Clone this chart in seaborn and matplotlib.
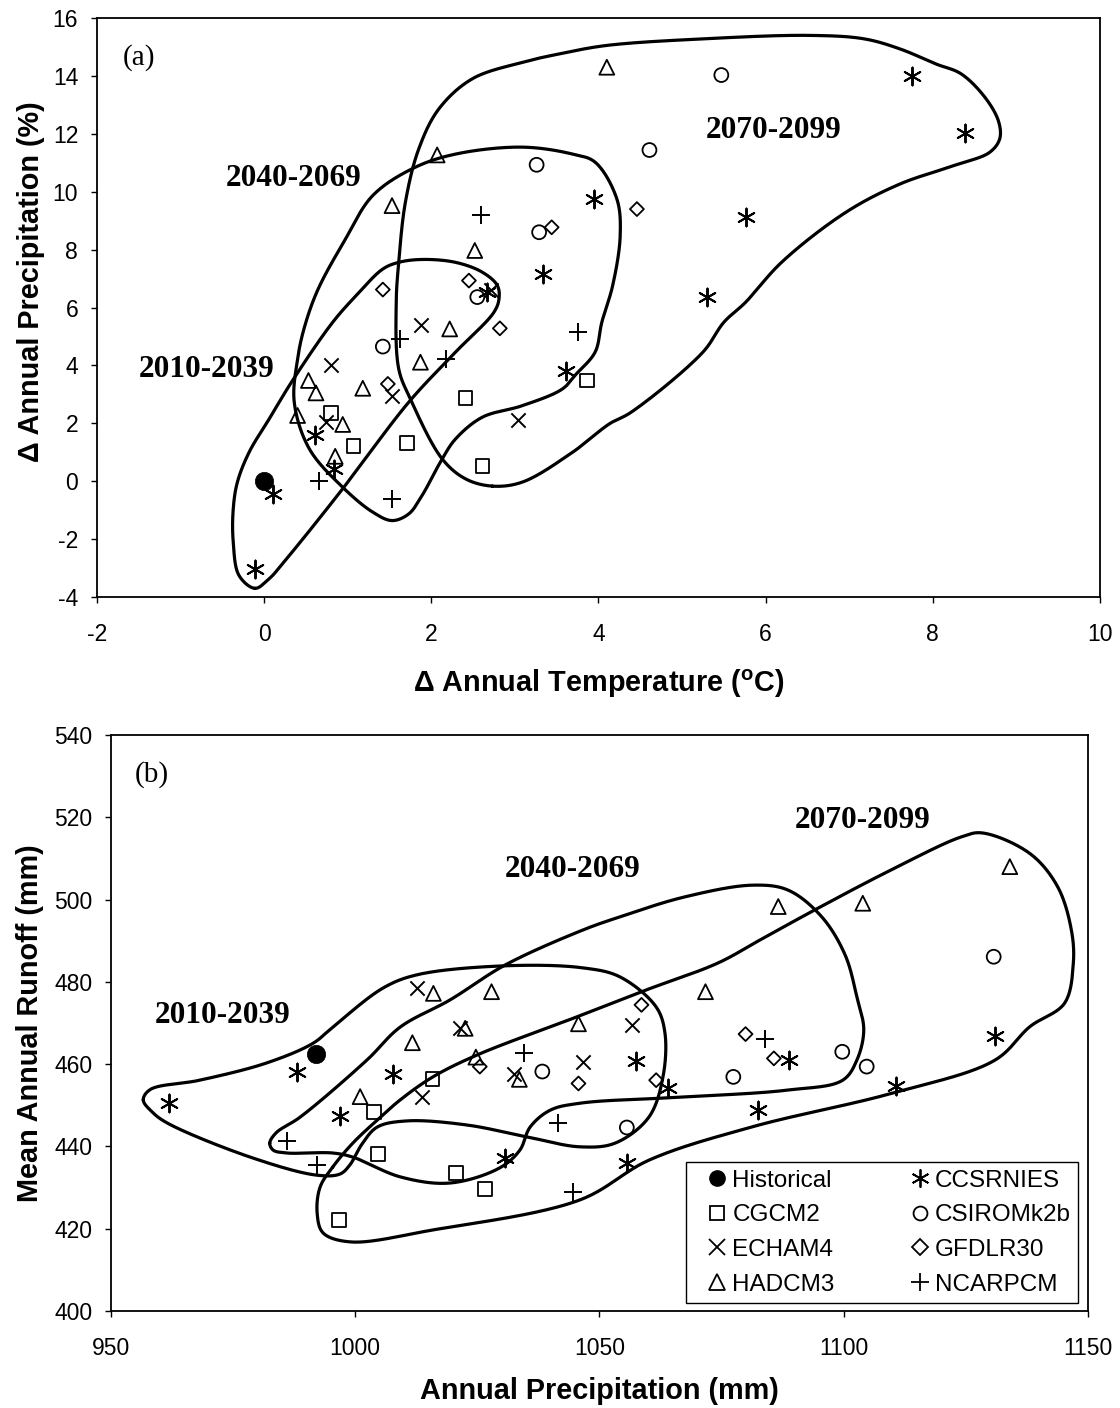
import numpy as np
import matplotlib
matplotlib.use("Agg")
import matplotlib.pyplot as plt
from matplotlib.lines import Line2D
import seaborn as sns

# ---------------- data ----------------
models = ["CGCM2", "ECHAM4", "HADCM3", "CCSRNIES", "CSIROMk2b", "GFDLR30", "NCARPCM"]
periods = ["2010-2039", "2040-2069", "2070-2099"]

# (a) change in annual temperature (degC) / change in annual precipitation (%)
hist_dT, hist_dP = [0.0], [0.0]
dT = {
    "CGCM2":     [0.80, 1.07, 1.71, 2.41, 2.61, 3.86],
    "ECHAM4":    [0.74, 0.80, 1.53, 1.88, 2.72, 3.04],
    "HADCM3":    [0.40, 0.53, 0.62, 0.85, 0.94, 1.18, 1.53, 1.87, 2.07, 2.22, 2.52, 4.10],
    "CCSRNIES":  [0.11, -0.11, 0.61, 0.84, 2.67, 3.34, 3.61, 3.95, 5.30, 5.77, 7.75, 8.38],
    "CSIROMk2b": [1.42, 2.55, 3.26, 3.29, 4.61, 5.47],
    "GFDLR30":   [1.42, 1.48, 2.45, 2.82, 3.44, 4.46],
    "NCARPCM":   [0.66, 1.53, 1.62, 2.17, 2.59, 3.75],
}
dP = {
    "CGCM2":     [2.36, 1.21, 1.32, 2.87, 0.52, 3.48],
    "ECHAM4":    [2.06, 4.00, 2.94, 5.40, 6.62, 2.13],
    "HADCM3":    [2.27, 3.48, 3.05, 0.86, 1.96, 3.21, 9.52, 4.11, 11.27, 5.26, 7.97, 14.30],
    "CCSRNIES":  [-0.44, -3.03, 1.58, 0.43, 6.53, 7.16, 3.82, 9.75, 6.36, 9.12, 14.00, 12.02],
    "CSIROMk2b": [4.65, 6.36, 10.93, 8.60, 11.44, 14.03],
    "GFDLR30":   [6.62, 3.36, 6.93, 5.28, 8.77, 9.40],
    "NCARPCM":   [0.00, -0.61, 4.92, 4.22, 9.20, 5.17],
}

# (b) annual precipitation (mm) / mean annual runoff (mm)
hist_P, hist_R = [992.0], [462.5]
precip = {
    "CGCM2":     [996.7, 1003.8, 1004.7, 1015.8, 1020.6, 1026.6],
    "ECHAM4":    [1012.6, 1013.6, 1021.5, 1032.5, 1046.6, 1056.7],
    "HADCM3":    [1001.0, 1011.7, 1016.0, 1022.5, 1024.7, 1027.9, 1033.6, 1045.7, 1071.7, 1086.6, 1103.9, 1134.0],
    "CCSRNIES":  [961.9, 988.0, 996.9, 1007.8, 1030.7, 1055.6, 1057.4, 1064.1, 1082.5, 1088.7, 1110.6, 1130.9],
    "CSIROMk2b": [1038.3, 1055.6, 1077.4, 1099.7, 1104.7, 1130.7],
    "GFDLR30":   [1025.5, 1045.7, 1058.6, 1061.6, 1079.9, 1085.7],
    "NCARPCM":   [986.0, 992.1, 1034.5, 1041.6, 1044.6, 1083.8],
}
runoff = {
    "CGCM2":     [422.1, 448.3, 438.1, 456.4, 433.5, 429.6],
    "ECHAM4":    [478.4, 452.1, 468.9, 457.5, 460.6, 469.4],
    "HADCM3":    [452.1, 465.2, 477.2, 468.7, 461.7, 477.6, 456.3, 469.8, 477.6, 498.3, 499.1, 508.0],
    "CCSRNIES":  [450.6, 458.2, 447.4, 457.6, 437.1, 436.0, 460.8, 454.1, 448.8, 461.0, 454.7, 466.8],
    "CSIROMk2b": [458.2, 444.6, 456.9, 463.0, 459.4, 486.1],
    "GFDLR30":   [459.4, 455.3, 474.4, 456.1, 467.3, 461.4],
    "NCARPCM":   [441.4, 435.6, 462.8, 445.6, 429.0, 466.0],
}

# envelopes drawn around each period's projections, panel (a)
env_a_2010_x = [-0.11, -0.30, -0.37, -0.37, -0.32, -0.18, 0.06, 0.34, 0.82, 1.10, 1.42, 1.61, 1.89,
                2.29, 2.61, 2.79, 2.81, 2.75, 2.29, 1.73, 0.94, 0.30, 0.06]
env_a_2010_y = [-3.70, -3.26, -2.10, -0.96, -0.03, 1.00, 2.15, 3.48, 5.49, 6.41, 7.33, 7.56, 7.66,
                7.56, 7.22, 6.76, 6.30, 5.84, 4.46, 2.73, -0.26, -2.57, -3.37]
env_a_2040_x = [1.53, 1.30, 0.94, 0.54, 0.36, 0.40, 0.48, 0.64, 0.96, 1.30, 1.79, 2.29, 3.09, 3.69,
                3.96, 4.22, 4.26, 4.17, 4.04, 3.96, 3.73, 3.57, 3.09, 2.61, 2.29, 2.13, 1.89, 1.73]
env_a_2040_y = [-1.36, -1.07, -0.21, 1.12, 2.73, 4.22, 5.30, 6.60, 8.30, 9.87, 10.82, 11.30, 11.54, 11.30,
                11.02, 9.75, 8.49, 6.76, 5.49, 4.46, 3.69, 3.19, 2.61, 2.21, 1.46, 0.77, -0.49, -1.13]
env_a_2070_x = [2.73, 2.41, 2.13, 1.75, 1.61, 1.58, 1.61, 1.69, 1.85, 2.09, 2.49, 3.09, 3.53, 4.09,
                5.25, 6.53, 7.18, 7.61, 8.04, 8.34, 8.64, 8.79, 8.80, 8.68, 8.25, 7.61, 6.96, 6.19,
                5.76, 5.50, 5.25, 4.39, 4.13, 3.69, 3.09]
env_a_2070_y = [-0.17, 0.08, 0.77, 2.84, 3.88, 6.18, 7.56, 9.64, 11.48, 12.86, 13.90, 14.47, 14.76, 15.05,
                15.28, 15.40, 15.28, 14.93, 14.41, 14.07, 13.20, 12.40, 11.82, 11.36, 10.90, 10.27, 9.29, 7.56,
                6.18, 5.49, 4.46, 2.38, 1.98, 1.00, -0.03]

# envelopes, panel (b)
env_b_2010_x = [956.6, 958.4, 961.5, 978.5, 992.2, 996.9, 998.9, 1001.4, 1004.5, 1010.6, 1022.9, 1035.2,
                1046.0, 1053.2, 1060.1, 1063.0, 1063.4, 1061.6, 1054.2, 1046.6, 1030.7, 1012.6, 1005.7,
                995.4, 991.4, 981.9, 968.2, 958.0]
env_b_2010_y = [451.3, 448.4, 445.7, 437.4, 433.0, 433.3, 435.5, 440.6, 444.7, 446.2, 445.2, 442.3,
                439.9, 440.8, 447.1, 456.9, 467.6, 473.9, 481.2, 483.4, 483.9, 481.7, 478.5,
                469.0, 465.1, 460.3, 456.1, 453.8]
env_b_2040_x = [982.5, 983.8, 988.7, 1002.4, 1009.2, 1019.4, 1030.7, 1046.6, 1054.2, 1067.3, 1081.4, 1088.6,
                1095.5, 1100.3, 1102.7, 1104.1, 1102.7, 1099.8, 1088.6, 1067.3, 1046.0, 1039.9, 1035.8,
                1033.7, 1029.6, 1019.4, 1009.2, 999.5, 995.4, 986.0, 983.2]
env_b_2040_y = [440.8, 443.3, 447.1, 461.0, 469.0, 475.6, 484.1, 492.6, 495.8, 500.6, 503.5, 502.3,
                495.8, 486.5, 476.3, 468.3, 461.0, 456.1, 453.7, 452.0, 450.5, 448.8, 444.7,
                439.1, 434.8, 431.1, 432.6, 437.4, 438.4, 438.4, 439.1]
env_b_2070_x = [995.4, 999.5, 1004.5, 1009.2, 1015.9, 1024.9, 1045.4, 1059.5, 1074.3, 1082.9, 1094.1, 1109.7,
                1124.0, 1128.3, 1138.1, 1143.8, 1146.6, 1147.0, 1145.2, 1138.1, 1131.0, 1109.8, 1081.4,
                1060.2, 1046.0, 1015.9, 998.9, 993.4, 992.2, 992.8]
env_b_2070_y = [435.0, 440.8, 446.4, 451.3, 456.9, 462.2, 471.5, 478.0, 484.6, 490.2, 497.5, 507.2,
                515.2, 516.2, 511.2, 503.1, 492.6, 484.5, 474.8, 469.1, 461.0, 452.9, 444.8,
                436.7, 427.0, 419.7, 416.8, 419.0, 423.8, 430.1]

# period label anchors
lab_a_x, lab_a_y = [-0.69, 0.35, 6.10], [3.87, 10.45, 12.12]
lab_b_x, lab_b_y = [972.9, 1044.6, 1103.9], [471.7, 507.4, 519.1]

# ---------------- style ----------------
sns.set_style("ticks")
plt.rcParams["font.family"] = ["Liberation Sans", "DejaVu Sans"]
plt.rcParams["mathtext.fontset"] = "custom"
plt.rcParams["mathtext.rm"] = "Liberation Sans"
plt.rcParams["mathtext.bf"] = "Liberation Sans:bold"
plt.rcParams["axes.unicode_minus"] = False
plt.rcParams["text.color"] = "black"
plt.rcParams["axes.labelcolor"] = "black"

MARK = {
    "CGCM2":     dict(marker="s", s=95, hollow=True),
    "ECHAM4":    dict(marker="x", s=105, hollow=False),
    "HADCM3":    dict(marker="^", s=115, hollow=True),
    "CCSRNIES":  dict(marker=(6, 2, 0), s=165, hollow=False),
    "CSIROMk2b": dict(marker="o", s=100, hollow=True),
    "GFDLR30":   dict(marker="D", s=50, hollow=True),
    "NCARPCM":   dict(marker="+", s=165, hollow=False),
}
LEG_ORDER = ["Historical", "CGCM2", "ECHAM4", "HADCM3", "CCSRNIES", "CSIROMk2b", "GFDLR30", "NCARPCM"]


def closed_spline(xs, ys, sx, sy, n=40):
    """Centripetal Catmull-Rom curve through a closed ring of points."""
    P = np.column_stack([np.asarray(xs, float) * sx, np.asarray(ys, float) * sy])
    N = len(P)
    segs = []
    for i in range(N):
        p0, p1, p2, p3 = P[(i - 1) % N], P[i], P[(i + 1) % N], P[(i + 2) % N]
        t0 = 0.0
        t1 = t0 + np.linalg.norm(p1 - p0) ** 0.5
        t2 = t1 + np.linalg.norm(p2 - p1) ** 0.5
        t3 = t2 + np.linalg.norm(p3 - p2) ** 0.5
        t = np.linspace(t1, t2, n, endpoint=False)[:, None]
        a1 = (t1 - t) / (t1 - t0) * p0 + (t - t0) / (t1 - t0) * p1
        a2 = (t2 - t) / (t2 - t1) * p1 + (t - t1) / (t2 - t1) * p2
        a3 = (t3 - t) / (t3 - t2) * p2 + (t - t2) / (t3 - t2) * p3
        b1 = (t2 - t) / (t2 - t0) * a1 + (t - t0) / (t2 - t0) * a2
        b2 = (t3 - t) / (t3 - t1) * a2 + (t - t1) / (t3 - t1) * a3
        segs.append((t2 - t) / (t2 - t1) * b1 + (t - t1) / (t2 - t1) * b2)
    C = np.vstack(segs + [segs[0][:1]])
    return C[:, 0] / sx, C[:, 1] / sy


def draw_points(ax, xs, ys, hx, hy):
    for m in models:
        st = MARK[m]
        if st["hollow"]:
            sns.scatterplot(x=xs[m], y=ys[m], marker=st["marker"], s=st["s"], color="black",
                            edgecolor="black", linewidth=1.3, ax=ax, legend=False, zorder=3)
            ax.collections[-1].set_facecolor("none")
        else:
            sns.scatterplot(x=xs[m], y=ys[m], marker=st["marker"], s=st["s"], color="black",
                            linewidth=1.4, ax=ax, legend=False, zorder=3)
    sns.scatterplot(x=hx, y=hy, marker="o", s=175, color="black", edgecolor="black",
                    linewidth=0.5, ax=ax, legend=False, zorder=4)


def draw_envelopes(ax, rings):
    fig = ax.figure
    bb = ax.get_position()
    xr = ax.get_xlim()
    yr = ax.get_ylim()
    sx = bb.width * fig.get_figwidth() * fig.dpi / (xr[1] - xr[0])
    sy = bb.height * fig.get_figheight() * fig.dpi / (yr[1] - yr[0])
    for rx, ry in rings:
        cx, cy = closed_spline(rx, ry, sx, sy)
        sns.lineplot(x=cx, y=cy, sort=False, estimator=None, color="black",
                     linewidth=2.3, ax=ax, legend=False, zorder=2)


def style_axes(ax):
    for sp in ax.spines.values():
        sp.set_visible(True)
        sp.set_color("black")
        sp.set_linewidth(1.3)
    ax.tick_params(axis="both", direction="out", length=4.5, width=1.0,
                   color="black", labelsize=16.5, labelcolor="black")
    ax.tick_params(axis="x", pad=14)
    ax.tick_params(axis="y", pad=9)
    ax.grid(False)


fig = plt.figure(figsize=(11.2, 14.08), dpi=100)
fig.patch.set_facecolor("white")

serif_bold = dict(family=["Liberation Serif", "DejaVu Serif"], fontweight="bold",
                  fontsize=22.5, color="black")
axis_lab = dict(fontsize=20.8, fontweight="bold", color="black")

# ---------- (a) ----------
ax1 = fig.add_axes([0.0866, 0.5760, 0.8955, 0.4112])
ax1.set_xlim(-2, 10)
ax1.set_ylim(-4, 16)
ax1.set_xticks(np.arange(-2, 11, 2))
ax1.set_yticks(np.arange(-4, 17, 2))
draw_envelopes(ax1, [(env_a_2010_x, env_a_2010_y), (env_a_2040_x, env_a_2040_y),
                     (env_a_2070_x, env_a_2070_y)])
draw_points(ax1, dT, dP, hist_dT, hist_dP)
ax1.set_xlim(-2, 10)
ax1.set_ylim(-4, 16)
style_axes(ax1)
ax1.set_xlabel("Δ Annual Temperature ($\\mathbf{^o}$C)", **axis_lab)
ax1.set_ylabel("Δ Annual Precipitation (%)", **axis_lab)
ax1.xaxis.set_label_coords(0.5, -0.122)
ax1.yaxis.set_label_coords(-0.052, 0.545)
for px, py, lab in zip(lab_a_x, lab_a_y, periods):
    ax1.text(px, py, lab, ha="center", va="center", **serif_bold)
ax1.text(-1.5, 14.65, "(a)", ha="center", va="center", color="black",
         family=["Liberation Serif", "DejaVu Serif"], fontsize=21)

# ---------- (b) ----------
ax2 = fig.add_axes([0.0991, 0.0689, 0.8723, 0.4091])
ax2.set_xlim(950, 1150)
ax2.set_ylim(400, 540)
ax2.set_xticks(np.arange(950, 1151, 50))
ax2.set_yticks(np.arange(400, 541, 20))
draw_envelopes(ax2, [(env_b_2010_x, env_b_2010_y), (env_b_2040_x, env_b_2040_y),
                     (env_b_2070_x, env_b_2070_y)])
draw_points(ax2, precip, runoff, hist_P, hist_R)
ax2.set_xlim(950, 1150)
ax2.set_ylim(400, 540)
style_axes(ax2)
ax2.set_xlabel("Annual Precipitation (mm)", **axis_lab)
ax2.set_ylabel("Mean Annual Runoff (mm)", **axis_lab)
ax2.xaxis.set_label_coords(0.5, -0.115)
ax2.yaxis.set_label_coords(-0.069, 0.5)
for px, py, lab in zip(lab_b_x, lab_b_y, periods):
    ax2.text(px, py, lab, ha="center", va="center", **serif_bold)
ax2.text(958.4, 530.4, "(b)", ha="center", va="center", color="black",
         family=["Liberation Serif", "DejaVu Serif"], fontsize=21)

# legend
handles = []
for name in LEG_ORDER:
    if name == "Historical":
        handles.append(Line2D([], [], marker="o", linestyle="none", color="black",
                              markerfacecolor="black", markersize=11, label=name))
    else:
        st = MARK[name]
        ms = {"s": 10, "x": 11, "^": 12, "o": 10, "D": 8, "+": 13}.get(st["marker"], 13)
        handles.append(Line2D([], [], marker=st["marker"], linestyle="none", color="black",
                              markerfacecolor="none", markeredgecolor="black",
                              markeredgewidth=1.3, markersize=ms, label=name))
leg = ax2.legend(handles=handles, ncol=2, loc="lower right", bbox_to_anchor=(0.990, 0.014),
                 fontsize=17.5, frameon=True, fancybox=False, edgecolor="black",
                 handlelength=2.0, handletextpad=-0.38, columnspacing=2.5, labelspacing=0.52,
                 borderpad=0.3, borderaxespad=0.0)
leg.get_frame().set_linewidth(1.0)
leg.get_frame().set_alpha(1.0)
for t in leg.get_texts():
    t.set_color("black")

fig.savefig("out.png", dpi=100, facecolor="white")
